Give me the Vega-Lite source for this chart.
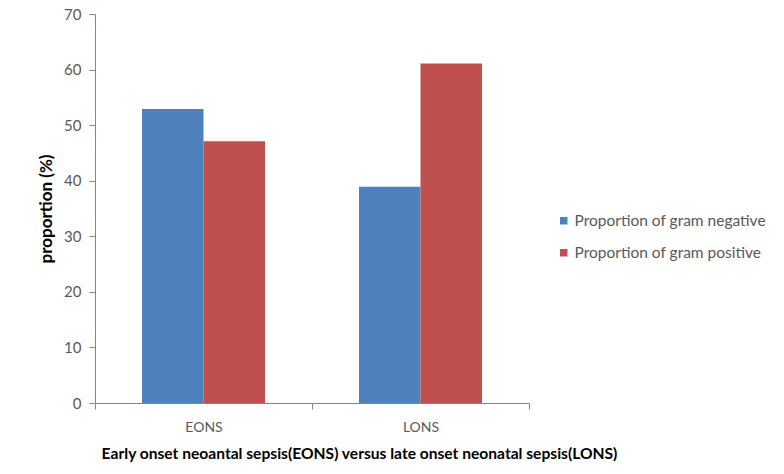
{
  "$schema": "https://vega.github.io/schema/vega-lite/v6.json",
  "width": 434,
  "height": 389,
  "autosize": {"type": "none"},
  "padding": {"left": 95, "top": 14, "right": 255, "bottom": 71},
  "background": "white",
  "data": {
    "values": [
      {"group": "EONS", "series": "Proportion of gram negative", "value": 52.9},
      {"group": "EONS", "series": "Proportion of gram positive", "value": 47.1},
      {"group": "LONS", "series": "Proportion of gram negative", "value": 38.9},
      {"group": "LONS", "series": "Proportion of gram positive", "value": 61.1}
    ]
  },
  "config": {
    "view": {"stroke": null},
    "font": "Lato",
    "axis": {
      "domainColor": "#868686",
      "tickColor": "#868686",
      "labelColor": "#595959",
      "labelFont": "Lato",
      "titleFont": "Lato",
      "titleColor": "#000000",
      "grid": false
    }
  },
  "mark": {"type": "bar", "stroke": null},
  "encoding": {
    "x": {
      "field": "group",
      "type": "nominal",
      "scale": {"paddingInner": 0, "paddingOuter": 0},
      "axis": {
        "title": "Early onset neoantal sepsis(EONS) versus late onset neonatal sepsis(LONS)",
        "labelAngle": 0,
        "labelFontSize": 14,
        "labelPadding": 11,
        "tickSize": 6,
        "tickBand": "extent",
        "titleFontSize": 15.6,
        "titleFontWeight": "bold",
        "titlePadding": 12,
        "titleX": 264,
        "titleAlign": "center"
      }
    },
    "xOffset": {"field": "series", "type": "nominal", "scale": {"paddingInner": 0, "paddingOuter": 0.764}},
    "y": {
      "field": "value",
      "type": "quantitative",
      "scale": {"domain": [0, 70]},
      "axis": {
        "title": "proportion (%)",
        "values": [0, 10, 20, 30, 40, 50, 60, 70],
        "labelFontSize": 15,
        "labelPadding": 8,
        "tickSize": 6,
        "titleFontSize": 17,
        "titleFontWeight": "bold",
        "titlePadding": 8
      }
    },
    "color": {
      "field": "series",
      "type": "nominal",
      "scale": {"range": ["#4F81BD", "#C0504D"]},
      "legend": {
        "title": null,
        "orient": "none",
        "legendX": 461,
        "legendY": 199,
        "symbolType": "square",
        "symbolSize": 56,
        "labelFontSize": 15.5,
        "labelColor": "#595959",
        "labelFont": "Lato",
        "labelLimit": 300,
        "rowPadding": 15,
        "labelOffset": 3
      }
    }
  }
}
